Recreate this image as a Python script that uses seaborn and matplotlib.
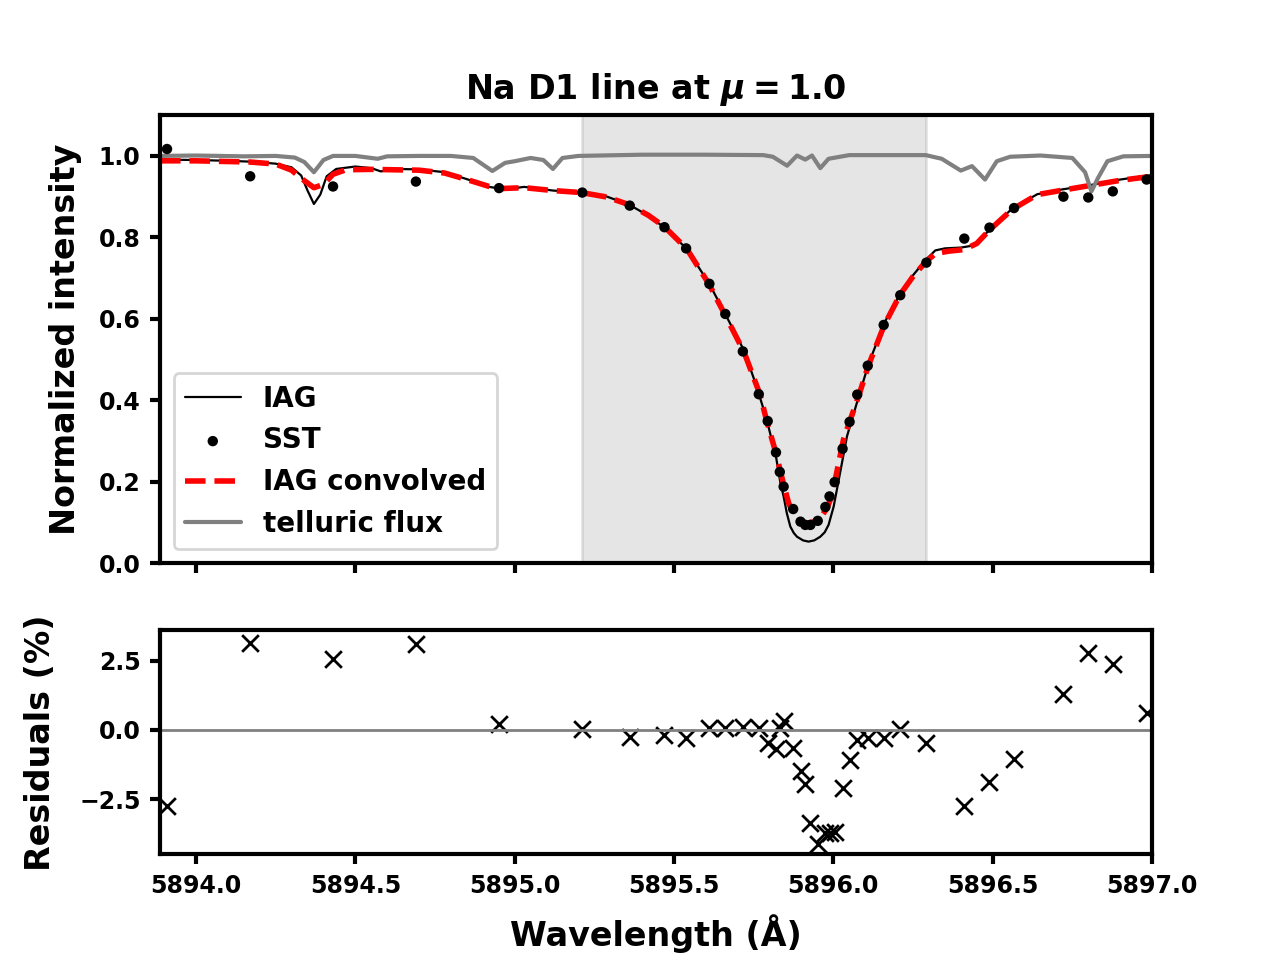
import numpy as np
import pandas as pd
import matplotlib
matplotlib.use("Agg")
import matplotlib.pyplot as plt
from matplotlib.ticker import MultipleLocator
import seaborn as sns

# IAG atlas (black thin line)
iag_wl = [5893.887, 5894.00, 5894.10, 5894.17, 5894.25, 5894.30, 5894.33, 5894.35, 5894.37,
          5894.39, 5894.41, 5894.44, 5894.50, 5894.55, 5894.58, 5894.62, 5894.70, 5894.78,
          5894.85, 5894.92, 5894.96, 5895.00, 5895.03, 5895.06, 5895.12, 5895.21, 5895.29,
          5895.36, 5895.42, 5895.47, 5895.54, 5895.61, 5895.66, 5895.72, 5895.76, 5895.79,
          5895.82, 5895.834, 5895.844, 5895.854, 5895.865, 5895.876, 5895.886, 5895.905,
          5895.922, 5895.940, 5895.959, 5895.973, 5895.985, 5896.001, 5896.011, 5896.027,
          5896.043, 5896.08, 5896.11, 5896.16, 5896.21, 5896.25, 5896.29, 5896.32, 5896.35,
          5896.40, 5896.44, 5896.49, 5896.56, 5896.64, 5896.72, 5896.81, 5896.90, 5896.98,
          5897.00]
iag_flux = [0.991, 0.990, 0.988, 0.986, 0.981, 0.972, 0.952, 0.915, 0.882,
            0.905, 0.950, 0.968, 0.974, 0.970, 0.962, 0.968, 0.967, 0.960,
            0.943, 0.924, 0.919, 0.921, 0.924, 0.921, 0.915, 0.910, 0.900,
            0.880, 0.853, 0.824, 0.772, 0.687, 0.613, 0.522, 0.432, 0.355,
            0.262, 0.197, 0.164, 0.123, 0.090, 0.074, 0.065, 0.056,
            0.053, 0.056, 0.065, 0.076, 0.094, 0.139, 0.180, 0.246,
            0.312, 0.410, 0.488, 0.590, 0.662, 0.707, 0.745, 0.768, 0.773,
            0.775, 0.780, 0.818, 0.870, 0.906, 0.918, 0.929, 0.942, 0.951,
            0.953]

# IAG convolved to SST resolution (red dashed)
conv_wl = [5893.887, 5894.00, 5894.17, 5894.25, 5894.30, 5894.33, 5894.37, 5894.40, 5894.43,
           5894.47, 5894.55, 5894.62, 5894.70, 5894.78, 5894.85, 5894.92, 5894.96, 5895.03,
           5895.12, 5895.21, 5895.29, 5895.36, 5895.42, 5895.47, 5895.54, 5895.61, 5895.66,
           5895.72, 5895.77, 5895.79, 5895.82, 5895.845, 5895.86, 5895.875, 5895.895, 5895.917,
           5895.94, 5895.96, 5895.98, 5895.995, 5896.006, 5896.032, 5896.05, 5896.08, 5896.11,
           5896.16, 5896.21, 5896.25, 5896.29, 5896.32, 5896.36, 5896.41, 5896.45, 5896.49,
           5896.56, 5896.64, 5896.72, 5896.81, 5896.90, 5896.98, 5897.00]
conv_flux = [0.988, 0.988, 0.985, 0.980, 0.965, 0.945, 0.922, 0.930, 0.955,
             0.966, 0.967, 0.966, 0.965, 0.958, 0.942, 0.925, 0.920, 0.922,
             0.915, 0.910, 0.899, 0.880, 0.854, 0.826, 0.772, 0.685, 0.610,
             0.518, 0.414, 0.352, 0.270, 0.190, 0.147, 0.123, 0.105, 0.098,
             0.102, 0.112, 0.135, 0.165, 0.205, 0.304, 0.345, 0.412, 0.485,
             0.585, 0.660, 0.704, 0.740, 0.760, 0.766, 0.770, 0.785, 0.818,
             0.868, 0.905, 0.916, 0.928, 0.940, 0.948, 0.950]

# telluric transmission (gray)
tell_wl = [5893.887, 5894.00, 5894.15, 5894.25, 5894.31, 5894.34, 5894.37, 5894.40, 5894.43,
           5894.50, 5894.54, 5894.57, 5894.60, 5894.70, 5894.80, 5894.87, 5894.93, 5894.97,
           5895.00, 5895.05, 5895.09, 5895.12, 5895.15, 5895.20, 5895.40, 5895.60, 5895.78,
           5895.81, 5895.855, 5895.886, 5895.912, 5895.933, 5895.959, 5895.985, 5896.05,
           5896.29, 5896.34, 5896.40, 5896.435, 5896.476, 5896.513, 5896.555, 5896.65,
           5896.75, 5896.79, 5896.81, 5896.83, 5896.86, 5896.91, 5897.00]
tell_flux = [1.000, 1.001, 0.999, 1.000, 0.996, 0.985, 0.960, 0.990, 1.000,
             1.000, 0.996, 0.993, 0.999, 1.000, 1.000, 0.995, 0.963, 0.983,
             0.987, 0.995, 0.990, 0.968, 0.995, 1.000, 1.003, 1.003, 1.002,
             0.998, 0.976, 1.001, 0.991, 1.001, 0.970, 0.993, 1.002,
             1.002, 0.993, 0.964, 0.975, 0.942, 0.987, 0.998, 1.001,
             0.995, 0.960, 0.913, 0.945, 0.987, 0.999, 1.000]

# SST observations and residuals (%)
sst_wl = [5893.909, 5894.170, 5894.430, 5894.690, 5894.951, 5895.212, 5895.361, 5895.470,
          5895.538, 5895.611, 5895.661, 5895.716, 5895.766, 5895.794, 5895.820, 5895.832,
          5895.844, 5895.874, 5895.897, 5895.912, 5895.928, 5895.951, 5895.975, 5895.988,
          5896.004, 5896.029, 5896.051, 5896.075, 5896.108, 5896.158, 5896.210, 5896.292,
          5896.411, 5896.490, 5896.567, 5896.722, 5896.800, 5896.877, 5896.983]
sst_flux = [1.017, 0.950, 0.925, 0.937, 0.921, 0.910, 0.878, 0.825,
            0.773, 0.686, 0.612, 0.520, 0.415, 0.349, 0.272, 0.224,
            0.188, 0.133, 0.102, 0.094, 0.094, 0.104, 0.138, 0.164,
            0.199, 0.281, 0.347, 0.414, 0.485, 0.585, 0.658, 0.738,
            0.797, 0.824, 0.872, 0.900, 0.898, 0.913, 0.942]
residuals = [-2.75, 3.16, 2.56, 3.10, 0.21, 0.03, -0.24, -0.18,
             -0.28, 0.08, 0.08, 0.10, 0.08, -0.46, -0.70, 0.08,
             0.33, -0.64, -1.49, -1.97, -3.36, -4.14, -3.72, -3.72,
             -3.68, -2.10, -1.10, -0.37, -0.30, -0.28, 0.03, -0.46,
             -2.75, -1.87, -1.06, 1.29, 2.78, 2.38, 0.63]

span = (5895.21, 5896.29)
mu = 1.0

sns.set_style("ticks")
plt.rcParams["font.family"] = ["DejaVu Sans"]
plt.rcParams["font.weight"] = "bold"
plt.rcParams["axes.labelweight"] = "bold"
plt.rcParams["axes.titleweight"] = "bold"
plt.rcParams["text.color"] = "black"
plt.rcParams["axes.labelcolor"] = "black"
plt.rcParams["mathtext.fontset"] = "custom"
plt.rcParams["mathtext.it"] = "DejaVu Sans:italic:bold"
plt.rcParams["mathtext.rm"] = "DejaVu Sans:bold"
plt.rcParams["mathtext.bf"] = "DejaVu Sans:bold"
plt.rcParams["axes.linewidth"] = 1.5
plt.rcParams["axes.edgecolor"] = "black"
plt.rcParams["xtick.major.width"] = 1.5
plt.rcParams["ytick.major.width"] = 1.5
plt.rcParams["xtick.color"] = "black"
plt.rcParams["ytick.color"] = "black"

fig, (ax1, ax2) = plt.subplots(2, 1, figsize=(6.4, 4.8), dpi=200, sharex=True,
                               gridspec_kw={"height_ratios": [2, 1]})

# top panel
ax1.axvspan(span[0], span[1], color="gray", alpha=0.2)
sns.lineplot(x=iag_wl, y=iag_flux, ax=ax1, color="black", lw=0.8, sort=False,
             estimator=None, label="IAG")
sns.scatterplot(x=sst_wl, y=sst_flux, ax=ax1, color="black", marker="o", s=14,
                edgecolor="none", zorder=5, label="SST")
sns.lineplot(x=conv_wl, y=conv_flux, ax=ax1, color="red", lw=2, ls="--", sort=False,
             estimator=None, label="IAG convolved")
sns.lineplot(x=tell_wl, y=tell_flux, ax=ax1, color="gray", lw=1.5, sort=False,
             estimator=None, label="telluric flux")
ax1.set_ylim(0, 1.1)
ax1.set_ylabel("Normalized intensity", fontsize=12, labelpad=6)
ax1.set_title(r"Na D1 line at $\mu = %.1f$" % mu, fontsize=12)
ax1.legend(loc="lower left", fontsize=10)

# bottom panel: residuals
ax2.axhline(0, color="gray", lw=1)
sns.scatterplot(x=sst_wl, y=residuals, ax=ax2, color="black", marker="x", s=36,
                linewidth=1)
ax2.set_ylim(-4.5, 3.6)
ax2.yaxis.set_major_locator(MultipleLocator(2.5))
ax2.set_xlim(5893.887, 5897.0)
ax2.set_xticks(np.arange(5894.0, 5897.01, 0.5))
ax2.set_xlabel("Wavelength (Å)", fontsize=12, labelpad=6)
ax2.set_ylabel("Residuals (%)", fontsize=12, labelpad=8)

for ax in (ax1, ax2):
    ax.tick_params(labelsize=8.5)
    for s in ax.spines.values():
        s.set_visible(True)

fig.savefig("out.png", dpi=200)
